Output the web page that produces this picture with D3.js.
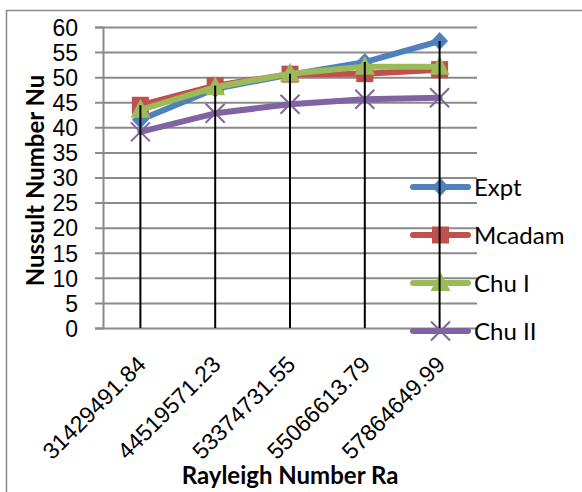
<!DOCTYPE html>
<html>
<head>
<meta charset="utf-8">
<script src="https://cdn.jsdelivr.net/npm/d3@7"></script>
<style>
  html, body { margin: 0; padding: 0; background: #fff; }
  svg { display: block; font-family: Lato, "Open Sans", sans-serif; }
</style>
</head>
<body>
<div id="chart"></div>
<script>
// Category labels (Rayleigh number) and series values (Nusselt number)
const categories = ["31429491.84", "44519571.23", "53374731.55", "55066613.79", "57864649.99"];
const expt = [41.5, 47.7, 50.5, 53.0, 57.2];
const mcadam = [44.4, 48.3, 50.6, 50.7, 51.5];
const chuI = [43.5, 48.0, 50.7, 52.1, 52.1];
const chuII = [39.1, 42.8, 44.6, 45.6, 45.9];
const yTicks = [0, 5, 10, 15, 20, 25, 30, 35, 40, 45, 50, 55, 60];

const series = [
  { name: "Expt", values: expt, color: "#4f81bd", marker: "diamond" },
  { name: "Mcadam", values: mcadam, color: "#c0504d", marker: "square" },
  { name: "Chu I", values: chuI, color: "#9bbb59", marker: "triangle" },
  { name: "Chu II", values: chuII, color: "#8064a2", marker: "cross" }
];

const width = 582;
const height = 492;
const plot = { left: 103, right: 477, top: 27, bottom: 328 };
const fontSize = "23px";

const svg = d3
  .select("#chart")
  .append("svg")
  .attr("width", width)
  .attr("height", height)
  .attr("viewBox", [0, 0, width, height]);

svg.append("rect").attr("width", width).attr("height", height).attr("fill", "#fff");

// outer chart border (runs off the right and bottom edges)
svg
  .append("rect")
  .attr("x", 6.5)
  .attr("y", 10.5)
  .attr("width", width + 20)
  .attr("height", height + 20)
  .attr("fill", "none")
  .attr("stroke", "#8a8a8a")
  .attr("stroke-width", 1.5);

const x = d3
  .scaleBand()
  .domain(categories)
  .range([plot.left, plot.right])
  .padding(0);

const y = d3.scaleLinear().domain([0, 60]).range([plot.bottom, plot.top]);

const cx = (c) => x(c) + x.bandwidth() / 2;

// y axis with gridlines
const yAxis = svg
  .append("g")
  .attr("transform", `translate(${plot.left},0)`)
  .call(d3.axisLeft(y).tickValues(yTicks).tickSize(8).tickPadding(17));

yAxis.select(".domain").attr("stroke", "#8a8a8a").attr("stroke-width", 2);
yAxis
  .selectAll(".tick line")
  .attr("x1", -8)
  .attr("x2", plot.right - plot.left)
  .attr("stroke", "#8a8a8a")
  .attr("stroke-width", 2);
yAxis
  .selectAll(".tick text")
  .attr("fill", "#000")
  .style("font-size", fontSize)
  .attr("dy", "0.36em");

// x axis labels, rotated
const xAxis = svg
  .append("g")
  .attr("transform", `translate(0,${plot.bottom})`)
  .call(d3.axisBottom(x).tickSize(0).tickPadding(0));
xAxis.select(".domain").remove();
xAxis
  .selectAll(".tick text")
  .attr("fill", "#000")
  .style("font-size", fontSize)
  .attr("text-anchor", "end")
  .attr("y", 0)
  .attr("dy", "0.36em")
  .attr("transform", "translate(1,32) rotate(-45)");

// axis titles
svg
  .append("text")
  .attr("x", (plot.left + plot.right) / 2)
  .attr("y", 484)
  .attr("text-anchor", "middle")
  .style("font-size", "24px")
  .style("font-weight", "bold")
  .text("Rayleigh Number Ra");

svg
  .append("text")
  .attr("transform", `translate(44,${(plot.top + plot.bottom) / 2 + 3}) rotate(-90)`)
  .attr("text-anchor", "middle")
  .style("font-size", "24px")
  .style("font-weight", "bold")
  .text("Nussult Number Nu");

// marker drawing
function drawMarker(g, type, color) {
  if (type === "diamond") {
    g.append("path").attr("d", "M0,-9L8.5,0L0,9L-8.5,0Z").attr("fill", color);
  } else if (type === "square") {
    g.append("rect")
      .attr("x", -8.5)
      .attr("y", -8.5)
      .attr("width", 17)
      .attr("height", 17)
      .attr("fill", color);
  } else if (type === "triangle") {
    g.append("path").attr("d", "M0,-11L10,8L-10,8Z").attr("fill", color);
  } else {
    g.append("path")
      .attr("d", "M-9.5,-9.5L9.5,9.5M-9.5,9.5L9.5,-9.5")
      .attr("stroke", color)
      .attr("stroke-width", 2)
      .attr("fill", "none");
  }
}

const line = d3
  .line()
  .x((d, i) => cx(categories[i]))
  .y((d) => y(d));

series.forEach((s) => {
  const g = svg.append("g");
  g.append("path")
    .datum(s.values)
    .attr("d", line)
    .attr("fill", "none")
    .attr("stroke", s.color)
    .attr("stroke-width", 6)
    .attr("stroke-linejoin", "round")
    .attr("stroke-linecap", "round");
  s.values.forEach((v, i) => {
    const m = g.append("g").attr("transform", `translate(${cx(categories[i])},${y(v)})`);
    drawMarker(m, s.marker, s.color);
  });
});

// legend
const legend = svg.append("g");
series.forEach((s, i) => {
  const ly = 187 + i * 48;
  const item = legend.append("g");
  item
    .append("line")
    .attr("x1", 413)
    .attr("x2", 468)
    .attr("y1", ly)
    .attr("y2", ly)
    .attr("stroke", s.color)
    .attr("stroke-width", 6)
    .attr("stroke-linecap", "round");
  drawMarker(item.append("g").attr("transform", `translate(440.5,${ly})`), s.marker, s.color);
  item
    .append("text")
    .attr("x", 474)
    .attr("y", ly)
    .attr("dy", "0.36em")
    .style("font-size", "24px")
    .text(s.name);
});

// drop lines from the highest point down to the axis
categories.forEach((c, i) => {
  const top = d3.max(series, (s) => s.values[i]);
  svg
    .append("line")
    .attr("x1", cx(c))
    .attr("x2", cx(c))
    .attr("y1", y(top))
    .attr("y2", y(0))
    .attr("stroke", "#000")
    .attr("stroke-width", 2);
});
</script>
</body>
</html>
